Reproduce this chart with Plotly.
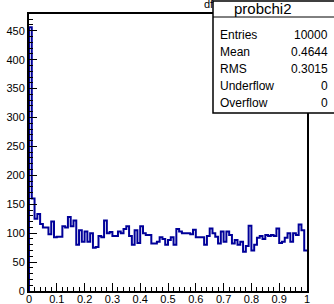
import numpy as np
import plotly.graph_objects as go

# ---- data ----
x_min, x_max, n_bins = 0.0, 1.0, 100
counts = [456, 160, 125, 133, 116, 110, 110, 98, 120, 93,
          94, 94, 112, 110, 128, 112, 122, 80, 105, 85,
          103, 85, 100, 75, 76, 95, 93, 122, 100, 102,
          95, 95, 103, 100, 107, 112, 95, 80, 105, 83,
          112, 100, 97, 97, 82, 82, 85, 93, 90, 80,
          88, 93, 80, 107, 103, 100, 100, 100, 98, 106,
          93, 93, 93, 80, 95, 108, 100, 94, 82, 103,
          85, 103, 97, 82, 88, 80, 85, 68, 78, 113,
          70, 80, 92, 95, 90, 97, 95, 97, 95, 108,
          83, 85, 92, 100, 85, 100, 97, 115, 105, 70]
stat_labels = ["Entries", "Mean", "RMS", "Underflow", "Overflow"]
stat_values = ["10000", "0.4644", "0.3015", "0", "0"]
hist_name = "probchi2"

edges = np.linspace(x_min, x_max, n_bins + 1)
xs = list(edges)
ys = list(counts) + [counts[-1]]

fig = go.Figure()
fig.add_trace(go.Scatter(x=[x_min] + xs, y=[0] + ys, mode="lines",
                         line=dict(color="#000099", width=2, shape="hv"),
                         hoverinfo="skip", showlegend=False))

W, H = 334, 304
L, R, T, B = 29, 307, 14, 291
def px(x):
    return (x - L) / (R - L)
def py(y):
    return (B - y) / (B - T)

font = "Liberation Sans, Arial, sans-serif"
fig.update_layout(
    width=W, height=H,
    margin=dict(l=L, r=W - R, t=T, b=H - B, pad=0, autoexpand=False),
    paper_bgcolor="white", plot_bgcolor="white",
    font=dict(family=font, size=11, color="black"),
    xaxis=dict(range=[x_min, x_max], showgrid=False, zeroline=False, automargin=False,
               showline=True, linecolor="black", linewidth=2, mirror=True,
               ticks="inside", ticklen=8, tickwidth=1, tickcolor="black",
               tickmode="array", tickvals=[i / 10 for i in range(11)],
               ticktext=["0", "0.1", "0.2", "0.3", "0.4", "0.5", "0.6", "0.7", "0.8", "0.9", "1"],
               ticklabelstandoff=-3,
               minor=dict(ticks="inside", ticklen=4, tickwidth=1, tickcolor="black", dtick=0.02),
               tickfont=dict(size=11)),
    yaxis=dict(range=[0, 479], showgrid=False, zeroline=False, automargin=False,
               showline=True, linecolor="black", linewidth=2, mirror=True,
               ticks="inside", ticklen=8, tickwidth=1, tickcolor="black",
               tickmode="array", tickvals=list(range(0, 451, 50)),
               minor=dict(ticks="inside", ticklen=4, tickwidth=1, tickcolor="black", dtick=10),
               tickfont=dict(size=11)),
)

# stats box
fig.add_shape(type="rect", xref="paper", yref="paper",
              x0=px(213), x1=px(337), y0=py(113), y1=py(1),
              fillcolor="white", line=dict(color="black", width=1.5), layer="above")
fig.add_shape(type="line", xref="paper", yref="paper",
              x0=px(213), x1=px(337), y0=py(17), y1=py(17),
              line=dict(color="black", width=1), layer="above")
fig.add_annotation(xref="paper", yref="paper", x=px(263), y=py(9), text=hist_name,
                   showarrow=False, xanchor="center", yanchor="middle",
                   font=dict(size=15, family=font))
row_y = [35, 52, 69, 86, 103]
for lab, val, yy in zip(stat_labels, stat_values, row_y):
    fig.add_annotation(xref="paper", yref="paper", x=px(218), y=py(yy), text=lab,
                       showarrow=False, xanchor="left", yanchor="middle",
                       font=dict(size=12, family=font))
    fig.add_annotation(xref="paper", yref="paper", x=px(330), y=py(yy), text=val,
                       showarrow=False, xanchor="right", yanchor="middle",
                       font=dict(size=12, family=font))

# clipped title fragment
fig.add_annotation(xref="paper", yref="paper", x=px(209), y=py(4), text="df",
                   showarrow=False, xanchor="center", yanchor="middle",
                   font=dict(size=11, family=font))

fig.write_html("out.html", config={"displayModeBar": False, "staticPlot": True})
with open("out.html", "r", encoding="utf-8") as f:
    html = f.read()
html = html.replace("<head>", "<head><style>html,body{margin:0;padding:0;overflow:hidden;}</style>", 1)
with open("out.html", "w", encoding="utf-8") as f:
    f.write(html)
